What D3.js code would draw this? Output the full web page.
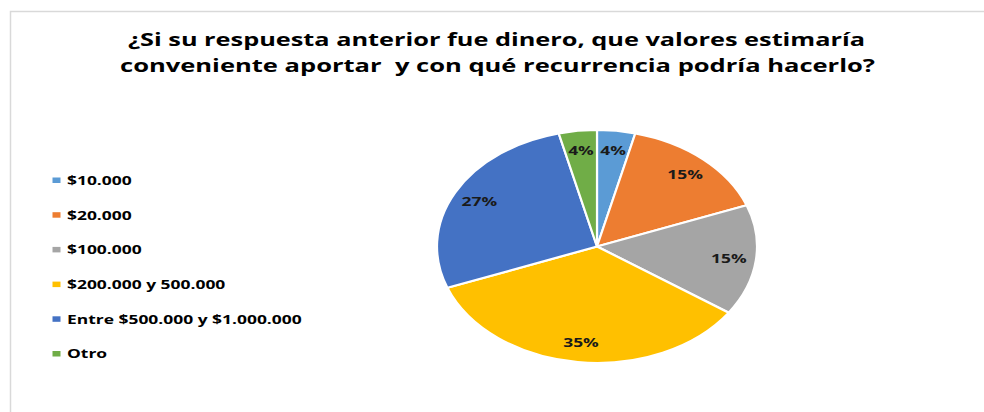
<!DOCTYPE html>
<html>
<head>
<meta charset="utf-8">
<script src="https://cdn.jsdelivr.net/npm/d3@7"></script>
<style>
  body { margin: 0; background: #fff; }
  text { font-family: "Open Sans", sans-serif; font-weight: bold; white-space: pre; }
</style>
</head>
<body>
<script>
var width = 984, height = 412;

// data
var categories = ["$10.000", "$20.000", "$100.000", "$200.000 y 500.000", "Entre $500.000 y $1.000.000", "Otro"];
var counts = [1, 4, 4, 9, 7, 1];
var colors = ["#5B9BD5", "#ED7D31", "#A5A5A5", "#FFC000", "#4472C4", "#70AD47"];
var titleLines = ["¿Si su respuesta anterior fue dinero, que valores estimaría",
                  "conveniente aportar  y con qué recurrencia podría hacerlo?"];

var svg = d3.select("body").append("svg")
    .attr("width", width)
    .attr("height", height);

// chart frame
svg.append("rect")
    .attr("x", 10.5).attr("y", 11.5)
    .attr("width", 1000).attr("height", 500)
    .attr("fill", "#fff")
    .attr("stroke", "#d9d9d9")
    .attr("stroke-width", 1.5);

// title (the picture is stretched sideways, so stretch the text too)
var titleSpans = [[128, 865, 46], [120, 875, 72]];
titleLines.forEach(function(t, i) {
  var s = titleSpans[i];
  svg.append("text")
      .attr("x", s[0]).attr("y", s[2])
      .attr("font-size", 18)
      .attr("fill", "#000")
      .attr("textLength", s[1] - s[0])
      .attr("lengthAdjust", "spacingAndGlyphs")
      .text(t);
});

// pie, drawn as circle then squashed into an ellipse
var cx = 597, cy = 246.5, rx = 160, ry = 116.5;
var sx = rx / ry;
var total = d3.sum(counts);

var pie = d3.pie().sort(null).value(function(d) { return d; });
var arcs = pie(counts);
var arc = d3.arc().innerRadius(0).outerRadius(ry);
var labelArc = d3.arc().innerRadius(ry * 0.83).outerRadius(ry * 0.83);

var pg = svg.append("g")
    .attr("transform", "translate(" + cx + "," + cy + ") scale(" + sx + ",1)");

pg.selectAll("path")
    .data(arcs)
    .enter().append("path")
    .attr("d", arc)
    .attr("fill", function(d, i) { return colors[i]; })
    .attr("stroke", "#fff")
    .attr("stroke-width", 2.2)
    .attr("vector-effect", "non-scaling-stroke");

var lg = svg.append("g")
    .attr("transform", "translate(" + cx + "," + cy + ")");

lg.selectAll("text")
    .data(arcs)
    .enter().append("text")
    .attr("text-anchor", "middle")
    .attr("font-size", 13)
    .attr("fill", "#1a1a1a")
    .text(function(d) { return Math.round(d.value / total * 100) + "%"; });

// legend
var rowY = d3.scalePoint().domain(categories).range([180, 353.5]);
var leg = svg.append("g");
var rows = leg.selectAll("g")
    .data(categories)
    .enter().append("g")
    .attr("transform", function(d) { return "translate(0," + rowY(d) + ")"; });

rows.append("rect")
    .attr("x", 52.5).attr("y", -2.5)
    .attr("width", 8).attr("height", 5.5)
    .attr("fill", function(d, i) { return colors[i]; });

rows.append("text")
    .attr("font-size", 13)
    .attr("fill", "#000")
    .text(function(d) { return d; });

// fit legend stretch to the longest label (67 -> 302)
var longest = rows.selectAll("text").nodes()[4];
var k = 235 / longest.getComputedTextLength();
rows.selectAll("text").attr("transform", "translate(67,4.8) scale(" + k + ",1)");
lg.selectAll("text").attr("transform", function(d) {
  var c = labelArc.centroid(d);
  return "translate(" + (c[0] * sx) + "," + (c[1] + 4.8) + ") scale(" + k + ",1)";
});
</script>
</body>
</html>
